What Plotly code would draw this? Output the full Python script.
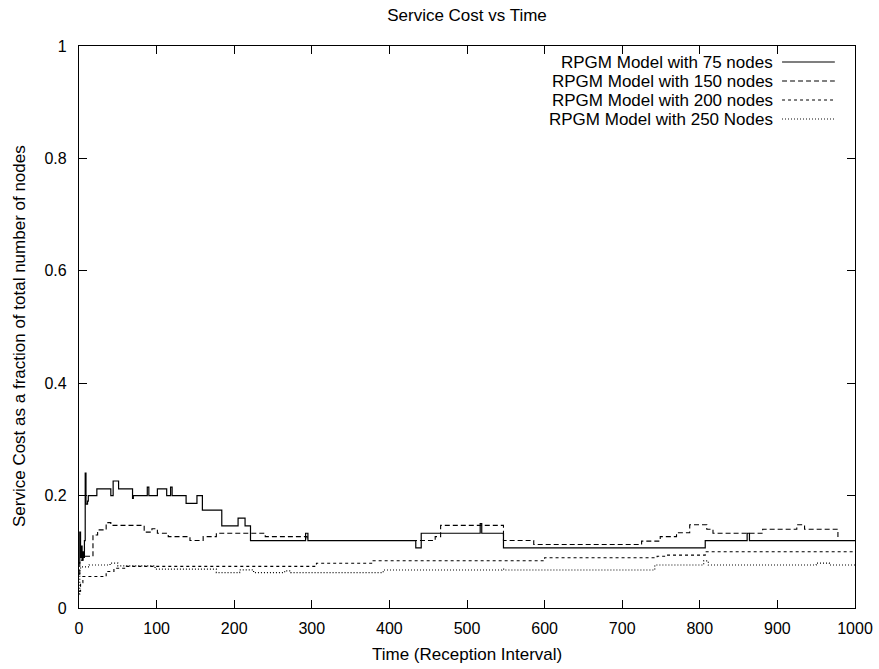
import plotly.graph_objects as go

# ---- data ----
series_names = ["RPGM Model with 75 nodes", "RPGM Model with 150 nodes",
                "RPGM Model with 200 nodes", "RPGM Model with 250 Nodes"]

x75 = [0, 1, 2, 3, 4, 5, 6, 7, 8, 9, 11, 12, 23, 41, 44, 51, 69, 70, 88, 90, 101, 113,
       118, 120, 138, 152, 159, 184, 205, 214, 221, 292, 295, 434, 441, 517, 519, 547,
       807, 861, 864, 1000]
y75 = [0.08, 0.135, 0.09, 0.11, 0.085, 0.10, 0.09, 0.12, 0.24, 0.185, 0.19, 0.20, 0.212,
       0.20, 0.226, 0.212, 0.195, 0.20, 0.215, 0.20, 0.212, 0.20, 0.215, 0.20, 0.186,
       0.20, 0.174, 0.146, 0.16, 0.146, 0.12, 0.133, 0.12, 0.107, 0.133, 0.15, 0.133,
       0.107, 0.12, 0.133, 0.12, 0.12]

x150 = [0, 1, 5, 18, 24, 35, 41, 84, 94, 101, 115, 143, 160, 177, 240, 294, 459, 466,
        547, 586, 725, 749, 770, 787, 809, 817, 881, 925, 935, 978, 1000]
y150 = [0.06, 0.085, 0.092, 0.13, 0.139, 0.152, 0.147, 0.135, 0.141, 0.133, 0.127, 0.12,
        0.127, 0.133, 0.127, 0.12, 0.127, 0.147, 0.12, 0.113, 0.119, 0.127, 0.134, 0.148,
        0.14, 0.133, 0.14, 0.148, 0.14, 0.12, 0.12]

x200 = [0, 2, 5, 35, 45, 61, 306, 379, 600, 745, 756, 807, 1000]
y200 = [0.03, 0.045, 0.056, 0.065, 0.0706, 0.074, 0.0795, 0.084, 0.0895, 0.092, 0.094,
        0.10, 0.10]

x250 = [0, 1, 2, 13, 40, 50, 98, 177, 207, 225, 265, 273, 392, 545, 548, 742, 805, 811,
        950, 967, 1000]
y250 = [0.025, 0.068, 0.073, 0.0765, 0.08, 0.075, 0.069, 0.063, 0.068, 0.063, 0.066,
        0.063, 0.0676, 0.069, 0.0676, 0.0765, 0.084, 0.0765, 0.08, 0.0765, 0.0765]

x_ticks = [0, 100, 200, 300, 400, 500, 600, 700, 800, 900, 1000]
y_ticks = [0, 0.2, 0.4, 0.6, 0.8, 1]

title_text = "Service Cost vs Time"
x_title = "Time (Reception Interval)"
y_title = "Service Cost as a fraction of total number of nodes"

# ---- styling ----
FONT = "Liberation Sans, Arial, Helvetica, sans-serif"
TXT = 17
dashes = ["solid", "5px,3px", "3px,3px", "1px,2px"]
widths = [1.2, 1.1, 1.1, 1.2]
colors = ["#000000", "#000000", "#000000", "#000000"]

fig = go.Figure()
for name, xs, ys, d, w, c in zip(series_names, [x75, x150, x200, x250],
                                 [y75, y150, y200, y250], dashes, widths, colors):
    fig.add_trace(go.Scatter(x=xs, y=ys, mode="lines", name=name,
                             line=dict(shape="hv", dash=d, width=w, color=c),
                             showlegend=False))

# gnuplot-style key: text right-aligned, sample to its right
row_y = [0.9715, 0.9377, 0.9039, 0.8701]
for name, d, w, yy in zip(series_names, dashes, widths, row_y):
    fig.add_annotation(x=0.897, y=yy, xref="paper", yref="paper", text=name,
                       showarrow=False, xanchor="right", yanchor="middle",
                       font=dict(family=FONT, size=TXT, color="#000"))
    fig.add_shape(type="line", xref="paper", yref="paper", x0=0.906, x1=0.974,
                  y0=yy, y1=yy, line=dict(color="#000", width=w, dash=d))

fig.add_annotation(x=0.5, y=-0.0836, xref="paper", yref="paper", text=x_title,
                   showarrow=False, xanchor="center", yanchor="middle",
                   font=dict(family=FONT, size=TXT, color="#000"))
fig.add_annotation(x=-0.076, y=0.484, xref="paper", yref="paper", text=y_title,
                   showarrow=False, xanchor="center", yanchor="middle", textangle=-90,
                   font=dict(family=FONT, size=TXT, color="#000"))

axis_common = dict(showgrid=False, zeroline=False, showline=True, linecolor="#000",
                   linewidth=1.2, mirror="ticks", ticks="inside", ticklen=8,
                   tickcolor="#000", tickwidth=1, automargin=False,
                   tickfont=dict(family=FONT, size=16, color="#000"))

fig.update_layout(
    width=879, height=669,
    margin=dict(l=79, r=24, t=46, b=61, autoexpand=False),
    paper_bgcolor="white", plot_bgcolor="white",
    title=dict(text=title_text, x=0.5, xref="paper", xanchor="center",
               y=1 - 15 / 669, yanchor="middle", yref="container",
               font=dict(family=FONT, size=TXT, color="#000")),
    xaxis=dict(range=[0, 1000], tickvals=x_ticks, ticklabelstandoff=6, **axis_common),
    yaxis=dict(range=[0, 1], tickvals=y_ticks, ticklabelstandoff=8, **axis_common),
)

fig.write_html("out.html")
